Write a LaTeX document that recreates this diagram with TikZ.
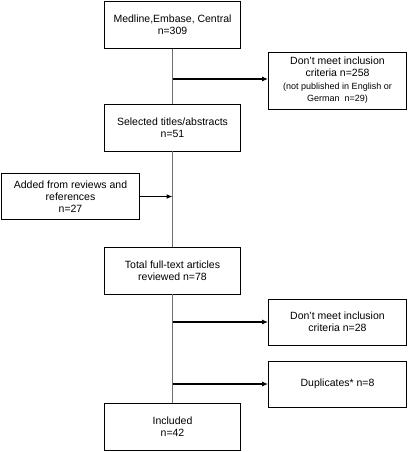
\documentclass[tikz,border=0pt]{standalone}
\usepackage{fontspec}
\setmainfont{Liberation Sans}
\usetikzlibrary{arrows.meta}
\definecolor{trunkclr}{HTML}{6E6E6E}
\tikzset{
  box/.style   = {draw, line width=0.8pt, align=center, inner sep=2pt,
                  font=\fontsize{10.5}{12}\selectfont},
  stage/.style = {box, minimum width=136pt, minimum height=47pt},
  side/.style  = {box, minimum width=138pt, minimum height=46pt},
  trunk/.style = {line width=0.9pt, draw=trunkclr},
  flow/.style  = {-{Latex[length=6pt,width=5pt]}, line width=1.6pt},
}
\begin{document}
\begin{tikzpicture}[x=1pt, y=-1pt]
\useasboundingbox (0,0) rectangle (412,452);

%% --- main stages ---------------------------------------------------
\node[stage] (search)   at (172.5,25)    {Medline,Embase, Central\\n=309};
\node[stage] (selected) at (172.5,127.5) {Selected titles/abstracts\\n=51};
\node[stage] (fulltext) at (172.5,270.5) {Total full-text articles\\reviewed n=78};
\node[stage] (included) at (172.5,426.5) {Included\\n=42};

%% --- side boxes ----------------------------------------------------
\node[side, minimum height=57pt] (excl1) at (337.5,80.5)
  {Don't meet inclusion\\criteria n=258\\[1pt]
   {\fontsize{9}{10.5}\selectfont (not published in English or}\\
   {\fontsize{9}{10.5}\selectfont German\ \ n=29)}};
\node[side] (added) at (70.5,196.5) {Added from reviews and\\references\\n=27};
\node[side] (excl2) at (337.5,322)  {Don't meet inclusion\\criteria n=28};
\node[side] (dupl)  at (337.5,384)  {Duplicates* n=8};

%% --- connectors ----------------------------------------------------
\draw[trunk] (search) -- (selected) -- (fulltext) -- (included);
\draw[flow] (search.south |- 0,79)  -- (excl1.west |- 0,79);
\draw[flow] (added.east) -- (search.south |- added.east);
\draw[flow] (search.south |- excl2.west) -- (excl2.west);
\draw[flow] (search.south |- dupl.west)  -- (dupl.west);

\end{tikzpicture}
\end{document}
